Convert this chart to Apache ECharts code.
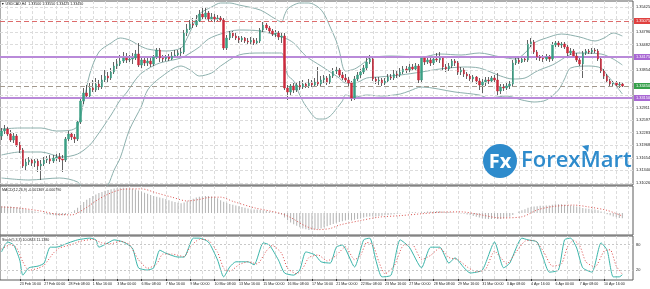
<!DOCTYPE html>
<html><head><meta charset="utf-8">
<script src="https://cdn.jsdelivr.net/npm/echarts@6/dist/echarts.min.js"></script>
<style>html,body{margin:0;padding:0;background:#fff}#c{width:650px;height:289px}</style>
</head><body><div id="c"></div>
<script>
// ---------- DATA ----------
const chartTitle = '\u25BC USDCAD,H4  1.33500 1.33550 1.33425 1.33450';
const macdTitle = 'MACD(12,26,9) -0.001369 -0.000790';
const stochTitle = 'Stoch(5,3,3) 10.0843 11.1380';

const xTickLabels = ['22 Feb 2017','23 Feb 16:00','27 Feb 00:00','28 Feb 08:00','1 Mar 16:00','3 Mar 00:00','6 Mar 08:00','7 Mar 16:00','9 Mar 00:00','10 Mar 08:00','13 Mar 16:00','15 Mar 00:00','16 Mar 08:00','17 Mar 16:00','21 Mar 00:00','22 Mar 08:00','23 Mar 16:00','27 Mar 00:00','28 Mar 08:00','29 Mar 16:00','31 Mar 00:00','3 Apr 08:00','4 Apr 16:00','6 Apr 00:00','7 Apr 08:00','10 Apr 16:00'];

const openP = [1.3220,1.32325,1.32375,1.3225,1.3210,1.3220,1.31975,1.3185,1.3145,1.3155,
1.3160,1.31525,1.31575,1.3145,1.3150,1.3160,1.31625,1.31575,1.3165,1.31675,
1.31625,1.3160,1.32125,1.3225,1.32175,1.32125,1.3255,1.33075,1.33275,1.3320,
1.3340,1.3335,1.3350,1.33425,1.3360,1.3370,1.3365,1.3380,1.3395,1.3400,
1.34075,1.3415,1.3410,1.34125,1.3415,1.3425,1.33975,1.3410,1.34025,1.34075,
1.3400,1.34175,1.3435,1.3415,1.34125,1.34175,1.34125,1.3420,1.34225,1.34275,
1.3430,1.34775,1.34875,1.3500,1.34975,1.35075,1.3525,1.35175,1.35275,1.35125,
1.35175,1.35125,1.3515,1.3510,1.3440,1.3465,1.34775,1.3470,1.3465,1.3460,
1.3465,1.34575,1.3455,1.3460,1.34525,1.34575,1.3485,1.34975,1.3490,1.34825,
1.3475,1.34775,1.34675,1.3470,1.3340,1.3330,1.3345,1.3335,1.33475,1.33425,
1.3350,1.3345,1.33525,1.33475,1.3355,1.3350,1.3360,1.3365,1.3355,1.3370,
1.33825,1.3385,1.33725,1.3365,1.3360,1.33525,1.3315,1.33625,1.33725,1.3380,
1.3390,1.3405,1.34125,1.33625,1.33575,1.3360,1.33525,1.33575,1.33675,1.3365,
1.3375,1.33725,1.3380,1.33875,1.3385,1.33925,1.33875,1.3395,1.3360,1.3415,
1.3405,1.3410,1.34025,1.34125,1.3410,1.3415,1.33925,1.33875,1.3395,1.34075,
1.34025,1.3380,1.3385,1.3375,1.3370,1.33625,1.33675,1.33575,1.33475,1.3355,
1.3360,1.33575,1.3365,1.3360,1.33325,1.33425,1.3340,1.3345,1.3350,1.34025,
1.3410,1.3405,1.34125,1.3410,1.3450,1.3455,1.3430,1.34175,1.3415,1.34125,
1.34175,1.34125,1.34475,1.34525,1.34475,1.3450,1.34425,1.34275,1.34325,1.3420,
1.3410,1.3400,1.34275,1.34325,1.3430,1.3435,1.34325,1.34125,1.33825,1.3370,
1.33575,1.3350,1.33525,1.33475,1.3350];

const closeP = [1.32325,1.32375,1.3225,1.3210,1.3220,1.31975,1.3185,1.3145,1.3155,1.3160,
1.31525,1.31575,1.3145,1.3150,1.3160,1.31625,1.31575,1.3165,1.31675,1.31625,
1.3160,1.32125,1.3225,1.32175,1.32125,1.3255,1.33075,1.33275,1.3320,1.3340,
1.3335,1.3350,1.33425,1.3360,1.3370,1.3365,1.3380,1.3395,1.3400,1.34075,
1.3415,1.3410,1.34125,1.3415,1.3425,1.33975,1.3410,1.34025,1.34075,1.3400,
1.34175,1.3435,1.3415,1.34125,1.34175,1.34125,1.3420,1.34225,1.34275,1.3430,
1.34775,1.34875,1.3500,1.34975,1.35075,1.3525,1.35175,1.35275,1.35125,1.35175,
1.35125,1.3515,1.3510,1.3440,1.3465,1.34775,1.3470,1.3465,1.3460,1.3465,
1.34575,1.3455,1.3460,1.34525,1.34575,1.3485,1.34975,1.3490,1.34825,1.3475,
1.34775,1.34675,1.3470,1.3340,1.3330,1.3345,1.3335,1.33475,1.33425,1.3350,
1.3345,1.33525,1.33475,1.3355,1.3350,1.3360,1.3365,1.3355,1.3370,1.33825,
1.3385,1.33725,1.3365,1.3360,1.33525,1.3315,1.33625,1.33725,1.3380,1.3390,
1.3405,1.34125,1.33625,1.33575,1.3360,1.33525,1.33575,1.33675,1.3365,1.3375,
1.33725,1.3380,1.33875,1.3385,1.33925,1.33875,1.3395,1.3360,1.3415,1.3405,
1.3410,1.34025,1.34125,1.3410,1.3415,1.33925,1.33875,1.3395,1.34075,1.34025,
1.3380,1.3385,1.3375,1.3370,1.33625,1.33675,1.33575,1.33475,1.3355,1.3360,
1.33575,1.3365,1.3360,1.33325,1.33425,1.3340,1.3345,1.3350,1.34025,1.3410,
1.3405,1.34125,1.3410,1.3450,1.3455,1.3430,1.34175,1.3415,1.34125,1.34175,
1.34125,1.34475,1.34525,1.34475,1.3450,1.34425,1.34275,1.34325,1.3420,1.3410,
1.3400,1.34275,1.34325,1.3430,1.3435,1.34325,1.34125,1.33825,1.3370,1.33575,
1.3350,1.33525,1.33475,1.3350,1.3345];

const highP = [1.3240,1.32475,1.32425,1.3235,1.32275,1.3225,1.3205,1.3190,1.3165,1.31675,
1.3165,1.31625,1.3165,1.3160,1.31675,1.3170,1.31725,1.31725,1.3175,1.31775,
1.31725,1.32175,1.32325,1.3230,1.3225,1.3260,1.3315,1.3340,1.33475,1.33525,
1.3360,1.3365,1.3360,1.33725,1.3385,1.3380,1.3390,1.3405,1.34125,1.34225,
1.3430,1.34275,1.34225,1.34275,1.3435,1.34525,1.3415,1.34175,1.3415,1.3415,
1.34225,1.3440,1.3440,1.34225,1.34225,1.3425,1.3430,1.3435,1.3435,1.3440,
1.3485,1.3500,1.3510,1.3515,1.35225,1.3535,1.3540,1.35425,1.35325,1.35275,
1.3525,1.35225,1.3520,1.3515,1.34725,1.34825,1.34825,1.34775,1.3470,1.3470,
1.34675,1.3465,1.34675,1.3465,1.3465,1.3490,1.3505,1.35025,1.3495,1.34875,
1.3485,1.34825,1.3480,1.34775,1.33475,1.3350,1.33525,1.3355,1.33575,1.3360,
1.3355,1.33625,1.3360,1.3365,1.33925,1.3370,1.33725,1.3370,1.3375,1.3390,
1.33925,1.3390,1.3380,1.3375,1.33675,1.33575,1.3370,1.3380,1.33875,1.33975,
1.3415,1.34225,1.34175,1.33675,1.33675,1.3365,1.3365,1.3375,1.3375,1.3385,
1.33825,1.3390,1.3395,1.3395,1.3400,1.3400,1.34025,1.3400,1.3420,1.3420,
1.34175,1.3415,1.3420,1.34275,1.3430,1.3420,1.3400,1.34025,1.34125,1.34125,
1.34075,1.33925,1.3390,1.3380,1.3375,1.33725,1.3370,1.3365,1.33625,1.33675,
1.33675,1.3370,1.33725,1.33775,1.3350,1.3350,1.33525,1.33575,1.3410,1.34175,
1.34175,1.3420,1.3420,1.3460,1.3465,1.3460,1.3435,1.34225,1.34225,1.3425,
1.34225,1.3455,1.34575,1.34575,1.3455,1.3455,1.34475,1.3440,1.34375,1.34275,
1.3415,1.34325,1.34375,1.34375,1.3440,1.3440,1.34375,1.34175,1.33875,1.3375,
1.33625,1.33575,1.33575,1.3355,1.3355];

const lowP = [1.3210,1.3225,1.3220,1.3205,1.32025,1.31925,1.31775,1.3140,1.3135,1.31475,
1.3145,1.31425,1.3130,1.3110,1.3145,1.31525,1.3150,1.31525,1.31575,1.3155,
1.3130,1.3155,1.32075,1.3210,1.32025,1.32075,1.3250,1.3300,1.33125,1.3315,
1.3330,1.3330,1.3335,1.33375,1.3355,1.3355,1.3360,1.3375,1.33875,1.3395,
1.34025,1.34025,1.3405,1.3400,1.3410,1.33925,1.3390,1.3395,1.3395,1.33925,
1.3395,1.34125,1.3405,1.3405,1.34075,1.34075,1.3410,1.3415,1.34175,1.34175,
1.3425,1.3470,1.3485,1.3490,1.34925,1.3505,1.35125,1.3510,1.35075,1.35075,
1.3505,1.35075,1.3505,1.3435,1.3435,1.3460,1.3465,1.3460,1.34525,1.3455,
1.34525,1.3450,1.3450,1.34475,1.3450,1.34525,1.3480,1.3485,1.34775,1.3470,
1.34675,1.3460,1.34525,1.3335,1.3310,1.33225,1.33275,1.3330,1.3335,1.33375,
1.3340,1.3340,1.33425,1.33425,1.3345,1.3345,1.33525,1.33475,1.3350,1.3365,
1.3375,1.33675,1.3360,1.33525,1.3345,1.33075,1.3310,1.33575,1.3365,1.3375,
1.3385,1.3400,1.33575,1.3350,1.33475,1.3345,1.33475,1.33525,1.3360,1.3360,
1.3365,1.33675,1.3375,1.33775,1.3380,1.33825,1.33825,1.33525,1.33525,1.33975,
1.3400,1.3395,1.33975,1.3405,1.34025,1.3385,1.3380,1.33825,1.3390,1.3395,
1.33725,1.33725,1.33675,1.33625,1.33575,1.3355,1.3350,1.3335,1.33275,1.3345,
1.3350,1.33525,1.3355,1.33225,1.3325,1.33325,1.3335,1.33375,1.3345,1.33975,
1.3400,1.34025,1.3405,1.3405,1.34425,1.3425,1.3410,1.34075,1.3405,1.34075,
1.3405,1.34075,1.34425,1.34425,1.3440,1.34375,1.3420,1.34225,1.3415,1.3405,
1.3395,1.3365,1.34225,1.3425,1.3425,1.34275,1.34075,1.33775,1.33625,1.33525,
1.3345,1.33425,1.33425,1.3340,1.33425];

// Bollinger bands: [bar index, price]
const bbUpper = [[0,1.32375],[6,1.3240],[13,1.3240],[18,1.32325],[23,1.3235],[25,1.3245],[27,1.3305],[29,1.3375],[32,1.3430],[36,1.34525],[39,1.3465],[42,1.3460],[45,1.34475],[48,1.34375],[54,1.34325],[59,1.3440],[61,1.3465],[63,1.34975],[65,1.3525],[69,1.35425],[72,1.35525],[75,1.35525],[78,1.35475],[85,1.3535],[90,1.35125],[92,1.3505],[93,1.35225],[94,1.35375],[96,1.35475],[98,1.35525],[101,1.35525],[104,1.35425],[106,1.3525],[108,1.34925],[110,1.34575],[111,1.34325],[113,1.33825],[116,1.33875],[119,1.34025],[121,1.3415],[128,1.3420],[138,1.34175],[144,1.3425],[151,1.34225],[157,1.34275],[164,1.34175],[169,1.34125],[172,1.34275],[175,1.34525],[179,1.3465],[184,1.3475],[190,1.34675],[195,1.34575],[198,1.3465],[201,1.34775],[204,1.3470]];
const bbMiddle = [[0,1.31725],[6,1.3180],[13,1.3180],[20,1.31675],[25,1.3175],[29,1.31975],[32,1.32275],[36,1.32725],[39,1.3310],[41,1.33275],[45,1.3370],[48,1.33875],[52,1.34025],[59,1.3415],[62,1.34275],[65,1.34425],[68,1.34625],[72,1.3475],[78,1.3485],[85,1.34825],[93,1.3465],[96,1.34525],[100,1.3420],[105,1.3395],[108,1.3380],[111,1.3365],[113,1.33525],[116,1.33525],[120,1.3365],[124,1.33675],[131,1.33725],[138,1.3380],[144,1.33875],[152,1.33925],[157,1.3390],[164,1.3370],[168,1.33625],[172,1.3365],[176,1.33825],[181,1.33975],[189,1.34275],[197,1.3425],[201,1.34125],[204,1.33975]];
const bbLower = [[0,1.3115],[9,1.3110],[19,1.3115],[25,1.3105],[27,1.3085],[31,1.30725],[33,1.30825],[35,1.30975],[37,1.3135],[39,1.3165],[42,1.3235],[46,1.3295],[48,1.3335],[52,1.3365],[59,1.3395],[62,1.3385],[65,1.3370],[69,1.33775],[72,1.3395],[78,1.34225],[85,1.34275],[92,1.34275],[93,1.3405],[94,1.33725],[96,1.33575],[98,1.33225],[100,1.3295],[104,1.32625],[106,1.32625],[108,1.3270],[110,1.32875],[111,1.32975],[112,1.33075],[113,1.33225],[116,1.33175],[120,1.33225],[125,1.3320],[131,1.3325],[134,1.33325],[138,1.33425],[149,1.3330],[157,1.33225],[160,1.3315],[166,1.3320],[171,1.3310],[175,1.3305],[179,1.3310],[183,1.3335],[185,1.33625],[187,1.3390],[193,1.3395],[197,1.3390],[199,1.33725],[202,1.3345],[204,1.3325]];

// MACD main (histogram), one value per bar
const macdMain = [0.0018,0.0018,0.0017,0.0017,0.0016,0.0015,0.0014,0.0012,0.0010,0.0008,
0.0006,0.0004,0.0002,0.0000,-0.0002,-0.0004,-0.0005,
-0.0006,-0.0007,-0.0007,-0.0006,-0.0005,
-0.0002,0.0002,0.0007,
0.0014,0.0022,0.0029,0.0035,
0.0040,0.0045,0.0049,0.0053,
0.0056,0.0059,0.0061,0.0063,0.0065,0.0066,0.0067,0.0067,0.0066,0.0065,0.0064,0.0062,0.0060,
0.0057,0.0054,0.0051,0.0048,0.0045,0.0043,0.0041,
0.0039,0.0037,0.0034,0.0031,0.0029,
0.0027,0.0026,0.0028,0.0031,0.0035,
0.0038,0.0041,0.0043,0.0044,0.0045,0.0045,0.0044,0.0042,
0.0039,0.0034,0.0030,0.0027,0.0024,0.0022,0.0020,
0.0018,0.0016,0.0014,0.0012,0.0010,0.0009,0.0009,0.0008,
0.0007,0.0006,0.0004,0.0002,0.0000,-0.0002,-0.0004,
-0.0012,-0.0019,-0.0025,-0.0030,-0.0034,
-0.0038,-0.0041,-0.0043,-0.0045,-0.0045,-0.0044,-0.0043,
-0.0041,-0.0038,-0.0035,-0.0032,-0.0029,-0.0026,-0.0024,
-0.0022,-0.0020,-0.0018,-0.0020,-0.0018,-0.0016,
-0.0014,-0.0012,-0.0010,-0.0009,-0.0009,-0.0009,-0.0008,-0.0007,-0.0006,-0.0005,-0.0004,-0.0003,-0.0002,
-0.0001,0.0000,0.0001,0.0001,0.0002,0.0002,0.0001,0.0002,0.0003,0.0004,0.0004,0.0004,0.0005,0.0005,0.0004,0.0003,0.0003,0.0002,0.0001,0.0000,-0.0001,-0.0002,
-0.0004,-0.0006,-0.0008,-0.0010,-0.0012,-0.0014,-0.0015,-0.0016,-0.0016,-0.0015,-0.0016,-0.0016,-0.0014,-0.0012,-0.0010,
-0.0005,0.0000,0.0004,0.0007,0.0010,0.0014,0.0016,0.0017,0.0018,0.0019,0.0019,0.0020,0.0020,0.0022,
0.0023,0.0023,0.0023,0.0022,0.0021,0.0020,0.0019,0.0017,0.0015,0.0013,0.0012,0.0011,
0.0010,0.0009,0.0007,0.0004,0.0001,-0.0003,
-0.0006,-0.0009,-0.0011,-0.0013,-0.0014];
// MACD signal: [bar index, value]
const macdSignal = [[0,0.0016],[6,0.0013],[13,0.0005],[18,-0.0003],[23,-0.0005],[28,0.0015],[31,0.0032],[35,0.0050],[40,0.0063],[46,0.0064],[51,0.0053],[56,0.0042],[61,0.0032],[65,0.0036],[68,0.0041],[72,0.0042],[76,0.0031],[83,0.0014],[89,0.0004],[92,-0.0002],[95,-0.0012],[100,-0.0035],[104,-0.0044],[108,-0.0041],[111,-0.0032],[118,-0.0020],[124,-0.0011],[131,-0.0007],[138,-0.0002],[144,0.0002],[151,0.0003],[157,-0.0004],[164,-0.0013],[171,-0.0010],[176,0.0008],[181,0.0017],[188,0.0021],[193,0.0016],[199,0.0007],[204,-0.0008]];

// Stochastic: [bar index, value]
const stochMain = [[0,63],[2,86],[4,79],[6,44],[7,9],[9,26],[12,30],[14,37],[16,74],[18,74],[22,84],[25,91],[29,95],[31,91],[32,74],[35,84],[37,91],[40,86],[43,72],[45,26],[48,21],[50,26],[52,67],[54,60],[58,51],[60,51],[63,95],[65,95],[68,86],[71,44],[73,5],[75,28],[77,40],[81,40],[83,33],[86,84],[88,79],[91,44],[93,14],[96,9],[98,21],[100,63],[103,56],[105,40],[108,37],[110,74],[112,79],[116,28],[119,91],[121,95],[123,44],[125,5],[128,9],[131,91],[134,74],[138,26],[141,74],[144,74],[147,37],[149,49],[152,26],[154,14],[158,21],[162,86],[165,26],[167,37],[171,95],[173,91],[176,86],[178,49],[180,16],[183,21],[185,91],[187,95],[189,72],[191,26],[194,16],[197,84],[199,67],[201,5],[203,5],[204,10]];
const stochSignal = [[0,70],[3,80],[5,72],[7,40],[9,20],[12,25],[14,32],[17,60],[19,72],[23,80],[26,88],[30,92],[33,84],[36,82],[39,88],[42,80],[45,45],[48,25],[51,35],[53,58],[56,58],[60,52],[62,75],[65,92],[68,90],[71,62],[73,25],[75,18],[78,33],[81,40],[84,35],[87,65],[89,78],[92,60],[94,25],[97,12],[99,25],[101,50],[104,56],[107,42],[110,55],[113,75],[116,45],[118,55],[120,85],[122,80],[124,40],[126,12],[129,30],[132,78],[135,80],[138,45],[141,55],[144,72],[147,50],[150,45],[153,28],[156,17],[159,22],[162,65],[164,50],[166,35],[169,62],[172,88],[175,90],[178,65],[181,30],[184,35],[186,75],[188,90],[190,78],[192,40],[195,28],[198,65],[200,68],[202,30],[204,11]];

// Axis ticks
const priceTicks = [1.35425,1.35111,1.34796,1.34482,1.34168,1.33854,1.33540,1.33225,1.32911,1.32597,1.32283,1.31968,1.31654,1.31340,1.31026];
const macdTicks = [0.006574, 0, -0.004538];
const macdTickLabels = ['0.006574', '0.00', '-0.004538'];
const stochTicks = [100, 80, 20, 0];
const stochLevels = [80, 20];

// Horizontal levels
const resistanceLevel = 1.35075;
const channelLevels = [1.34175, 1.33150];
const bidPrice = 1.33450;

// ---------- CHART ----------
const slotCount = 208;
const cats = Array.from({length: slotCount}, (_, i) => String(i));
const candleData = openP.map((o, i) => [o, closeP[i], lowP[i], highP[i]]);
const bodyData = openP.map((o, i) => [o, closeP[i], Math.min(o, closeP[i]), Math.max(o, closeP[i])]);

const GREEN = '#3a9f84', RED = '#cc2b3d', WICK = '#3c3c3c';
const FONT = 'Liberation Sans';
const gridLine = {color: '#dcdcdc', width: 1, type: [3, 2]};

function labelIndexOf(i) {
  if (i === 0) return 0;
  if (i >= 6 && (i + 2) % 8 === 0) { const k = (i + 2) / 8; return k < xTickLabels.length ? k : -1; }
  return -1;
}
const vGrid = (i) => i >= 2 && (i - 2) % 4 === 0;

function xAxisFor(gi, showLabels) {
  return {
    type: 'category', gridIndex: gi, data: cats, boundaryGap: true,
    axisLine: {show: false},
    axisTick: {show: showLabels, interval: (i) => labelIndexOf(i) >= 0, alignWithLabel: true, length: 2, lineStyle: {color: '#333'}},
    axisLabel: {show: showLabels, interval: (i) => labelIndexOf(i) >= 0,
      formatter: (v, i) => { const k = labelIndexOf(i); return k >= 0 ? xTickLabels[k] : ''; },
      fontSize: 3.6, color: '#222', align: 'left', margin: 2, fontFamily: FONT},
    splitLine: {show: true, interval: vGrid, alignWithLabel: true, lineStyle: gridLine}
  };
}

const levelNear = (v) => [resistanceLevel, bidPrice].concat(channelLevels).some(l => Math.abs(l - v) < 0.0011);

const priceGridMarks = priceTicks.map(v => ({
  yAxis: v, lineStyle: gridLine,
  label: {show: !levelNear(v), formatter: v.toFixed(5), position: 'end', distance: 3, fontSize: 3.9, color: '#222', fontFamily: FONT}
}));

function levelLabel(bg) {
  return {show: true, position: 'end', distance: 1, fontSize: 3.9, color: '#fff', backgroundColor: bg, padding: [1, 2], fontFamily: FONT};
}
const levelMarks = [
  {yAxis: resistanceLevel, lineStyle: {color: '#dd6b6b', width: 1, type: [5, 3]}, label: Object.assign(levelLabel('#e0403f'), {formatter: resistanceLevel.toFixed(5)})},
  {yAxis: channelLevels[0], lineStyle: {color: '#b98ad9', width: 1.8, type: 'solid'}, label: Object.assign(levelLabel('#a968d4'), {formatter: channelLevels[0].toFixed(5)})},
  {yAxis: channelLevels[1], lineStyle: {color: '#b98ad9', width: 1.8, type: 'solid'}, label: Object.assign(levelLabel('#a968d4'), {formatter: channelLevels[1].toFixed(5)})},
  {yAxis: bidPrice, lineStyle: {color: '#a39a8e', width: 1, type: [5, 3]}, label: Object.assign(levelLabel('#35a04a'), {formatter: bidPrice.toFixed(5)})}
];

const macdMarks = macdTicks.map((v, i) => ({
  yAxis: v, lineStyle: {opacity: 0},
  label: {show: true, formatter: macdTickLabels[i], position: 'end', distance: 3, fontSize: 3.9, color: '#222', fontFamily: FONT}
}));
const stochMarks = stochTicks.map(v => ({
  yAxis: v,
  lineStyle: stochLevels.indexOf(v) >= 0 ? {color: '#c8c8c8', width: 1, type: [2, 2]} : {opacity: 0},
  label: {show: true, formatter: String(v), position: 'end', distance: 3, fontSize: 3.9, color: '#222', fontFamily: FONT}
}));

const markBase = {silent: true, symbol: ['none', 'none'], animation: false, precision: 8};
const bandStyle = {color: '#8db0ad', width: 1};

const option = {
  animation: false,
  backgroundColor: '#fff',
  title: [
    {text: chartTitle, left: 1, top: 2, padding: 0, textStyle: {fontSize: 3.6, color: '#222', fontWeight: 'normal', fontFamily: FONT}},
    {text: macdTitle, left: 2, top: 187.5, padding: 0, textStyle: {fontSize: 3.6, color: '#222', fontWeight: 'normal', fontFamily: FONT}},
    {text: stochTitle, left: 2, top: 237.5, padding: 0, textStyle: {fontSize: 3.6, color: '#222', fontWeight: 'normal', fontFamily: FONT}}
  ],
  grid: [
    {left: 0, top: 1, width: 633, height: 184, show: true, borderColor: '#5a5a5a', borderWidth: 1},
    {left: 0, top: 186, width: 633, height: 49, show: true, borderColor: '#5a5a5a', borderWidth: 1},
    {left: 0, top: 236, width: 633, height: 44, show: true, borderColor: '#5a5a5a', borderWidth: 1}
  ],
  xAxis: [xAxisFor(0, false), xAxisFor(1, false), xAxisFor(2, true)],
  yAxis: [
    {type: 'value', gridIndex: 0, min: 1.30975, max: 1.35575, show: false},
    {type: 'value', gridIndex: 1, min: -0.00583, max: 0.00716, show: false},
    {type: 'value', gridIndex: 2, min: -2.3, max: 100, show: false}
  ],
  graphic: [
    {type: 'circle', shape: {cx: 500, cy: 161, r: 17}, style: {fill: '#2e8bcc'}, z: 50, silent: true},
    {type: 'text', x: 500, y: 162, style: {text: 'Fx', fill: '#fff', fontSize: 20, fontWeight: 'bold', fontFamily: 'Open Sans', align: 'center', verticalAlign: 'middle'}, z: 51, silent: true},
    {type: 'text', x: 521, y: 161, style: {text: 'ForexMart', fill: '#2e8bcc', fontSize: 22, fontWeight: 600, fontFamily: 'Open Sans', align: 'left', verticalAlign: 'middle'}, z: 51, silent: true},
    {type: 'polygon', shape: {points: [[582, 146], [589, 145], [588, 152]]}, style: {fill: '#2e8bcc'}, z: 51, silent: true}
  ],
  series: [
    {type: 'line', xAxisIndex: 0, yAxisIndex: 0, data: [], z: 1, silent: true, markLine: Object.assign({data: priceGridMarks}, markBase)},
    {type: 'line', xAxisIndex: 0, yAxisIndex: 0, data: [], z: 2, silent: true, markLine: Object.assign({data: levelMarks}, markBase)},
    {type: 'line', xAxisIndex: 0, yAxisIndex: 0, data: bbUpper, showSymbol: false, smooth: 0.3, lineStyle: bandStyle, z: 3, silent: true},
    {type: 'line', xAxisIndex: 0, yAxisIndex: 0, data: bbMiddle, showSymbol: false, smooth: 0.3, lineStyle: bandStyle, z: 3, silent: true},
    {type: 'line', xAxisIndex: 0, yAxisIndex: 0, data: bbLower, showSymbol: false, smooth: 0.3, lineStyle: bandStyle, z: 3, silent: true},
    {type: 'candlestick', xAxisIndex: 0, yAxisIndex: 0, data: candleData, barWidth: 1, z: 4, silent: true,
      itemStyle: {color: WICK, color0: WICK, borderColor: WICK, borderColor0: WICK, borderWidth: 0.8}},
    {type: 'candlestick', xAxisIndex: 0, yAxisIndex: 0, data: bodyData, barWidth: 2, z: 5, silent: true,
      itemStyle: {color: GREEN, color0: RED, borderColor: GREEN, borderColor0: RED, borderWidth: 0.5}},
    {type: 'bar', xAxisIndex: 1, yAxisIndex: 1, data: macdMain, barWidth: 1, itemStyle: {color: '#b3b3b3'}, z: 2, silent: true,
      markLine: Object.assign({data: macdMarks}, markBase)},
    {type: 'line', xAxisIndex: 1, yAxisIndex: 1, data: macdSignal, showSymbol: false, smooth: 0.3, lineStyle: {color: '#d9534f', width: 1, type: [1, 2]}, z: 3, silent: true},
    {type: 'line', xAxisIndex: 2, yAxisIndex: 2, data: stochMain, showSymbol: false, smooth: 0.2, lineStyle: {color: '#3bb5aa', width: 1}, z: 3, silent: true,
      markLine: Object.assign({data: stochMarks}, markBase)},
    {type: 'line', xAxisIndex: 2, yAxisIndex: 2, data: stochSignal, showSymbol: false, smooth: 0.2, lineStyle: {color: '#dd4b4b', width: 1, type: [1, 2]}, z: 4, silent: true}
  ]
};

const chart = echarts.init(document.getElementById('c'), null, {renderer: 'canvas', width: 650, height: 289});
chart.setOption(option);
</script>
</body></html>
